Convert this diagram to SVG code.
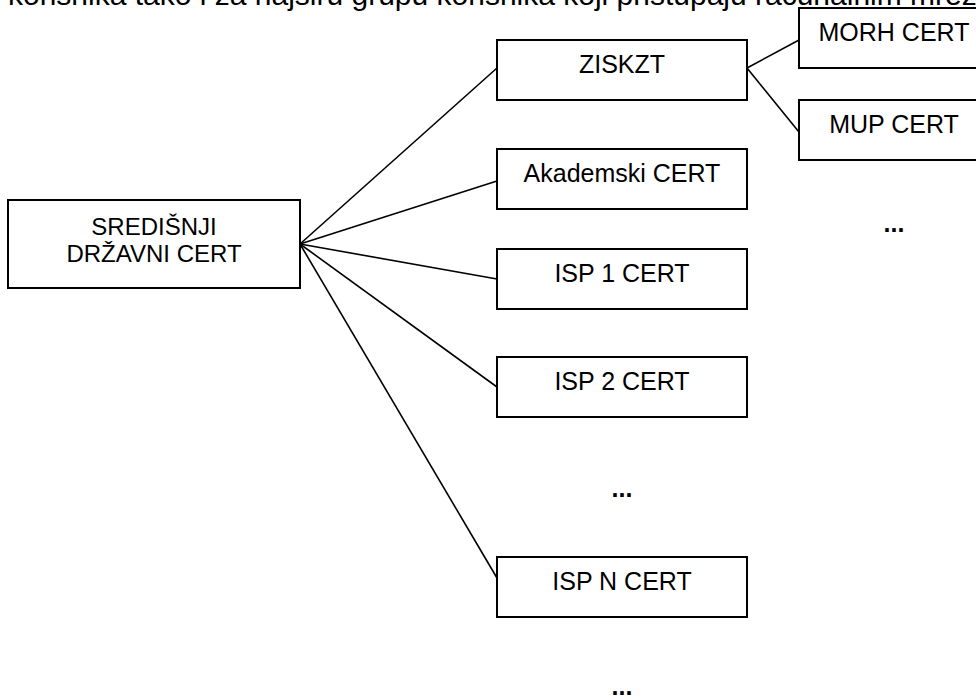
<svg xmlns="http://www.w3.org/2000/svg" width="976" height="700" viewBox="0 0 976 700">
  <style>
    .box { fill: #ffffff; stroke: #000000; stroke-width: 2; }
    .lbl { font-family: "Liberation Sans", Arial, sans-serif; font-size: 25px; fill: #000000; text-anchor: middle; }
    .lbl-c { font-family: "Liberation Sans", Arial, sans-serif; font-size: 24px; fill: #000000; text-anchor: middle; }
    .body { font-family: "Liberation Sans", Arial, sans-serif; font-size: 30px; fill: #000000; }
    .dots { font-family: "Liberation Sans", Arial, sans-serif; font-size: 25px; font-weight: bold; fill: #000000; text-anchor: middle; }
    .edge { fill: none; stroke: #000000; stroke-width: 1.6; }
  </style>
  <rect width="976" height="700" fill="#ffffff"/>

  <!-- running text line, cut at the top edge -->
  <text class="body" x="8" y="5">korisnika tako i za najširu grupu korisnika koji pristupaju računalnim mrežama</text>

  <g id="connectors">
    <line class="edge" x1="300" y1="244" x2="497" y2="68"/>
    <line class="edge" x1="300" y1="244" x2="497" y2="181"/>
    <line class="edge" x1="300" y1="244" x2="497" y2="279"/>
    <line class="edge" x1="300" y1="244" x2="497" y2="387"/>
    <line class="edge" x1="300" y1="244" x2="497" y2="578"/>
    <line class="edge" x1="747" y1="68" x2="799" y2="40"/>
    <line class="edge" x1="747" y1="68" x2="799" y2="132"/>
  </g>

  <g id="central">
    <rect class="box" x="8" y="200" width="292" height="88"/>
    <text class="lbl-c" x="154" y="235">SREDIŠNJI</text>
    <text class="lbl-c" x="154" y="262">DRŽAVNI CERT</text>
  </g>

  <g id="ziskzt">
    <rect class="box" x="497" y="40" width="250" height="60"/>
    <text class="lbl" x="622" y="73">ZISKZT</text>
  </g>

  <g id="akademski">
    <rect class="box" x="497" y="149" width="250" height="60"/>
    <text class="lbl" x="622" y="182">Akademski CERT</text>
  </g>

  <g id="isp1">
    <rect class="box" x="497" y="249" width="250" height="60"/>
    <text class="lbl" x="622" y="282">ISP 1 CERT</text>
  </g>

  <g id="isp2">
    <rect class="box" x="497" y="357" width="250" height="60"/>
    <text class="lbl" x="622" y="390">ISP 2 CERT</text>
  </g>

  <g id="ispn">
    <rect class="box" x="497" y="557" width="250" height="60"/>
    <text class="lbl" x="622" y="590">ISP N CERT</text>
  </g>

  <g id="morh">
    <rect class="box" x="799" y="8" width="190" height="60"/>
    <text class="lbl" x="894" y="41">MORH CERT</text>
  </g>

  <g id="mup">
    <rect class="box" x="799" y="100" width="190" height="60"/>
    <text class="lbl" x="894" y="133">MUP CERT</text>
  </g>

  <g id="ellipses">
    <text class="dots" x="622" y="497">...</text>
    <text class="dots" x="894" y="232">...</text>
    <text class="dots" x="622" y="695">...</text>
  </g>
</svg>
